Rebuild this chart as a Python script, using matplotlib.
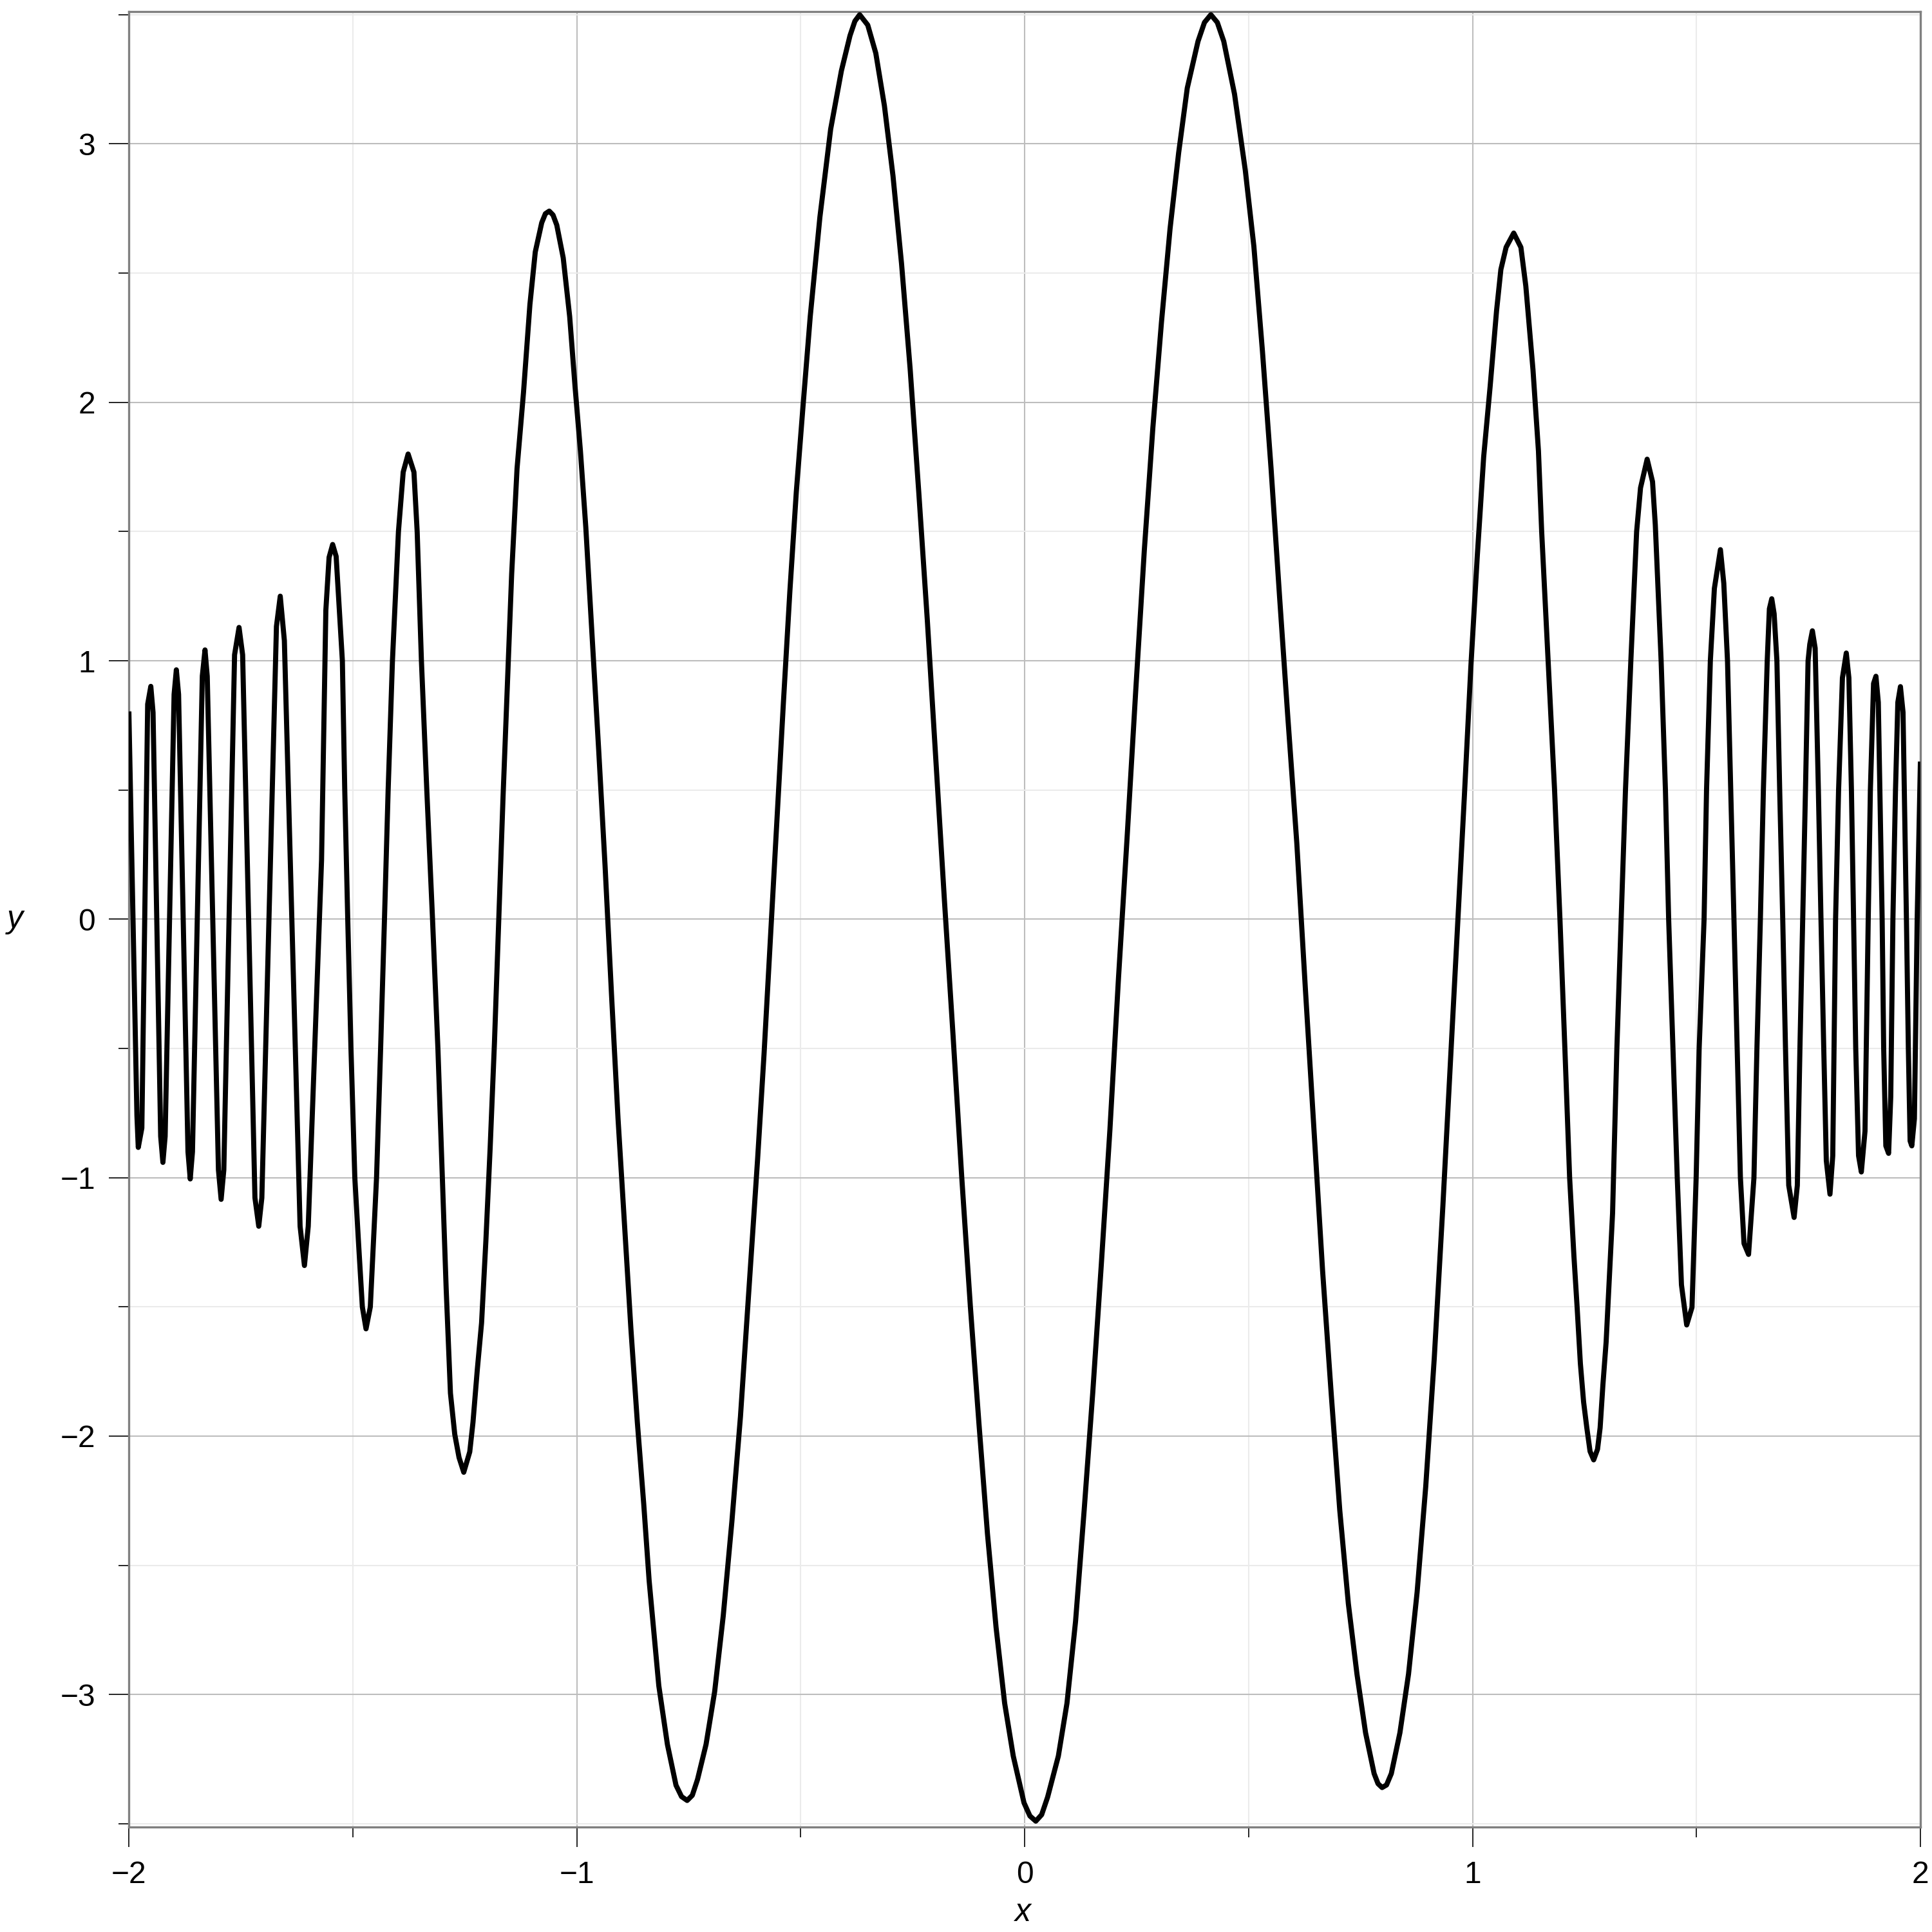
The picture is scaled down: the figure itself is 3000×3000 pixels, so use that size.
import matplotlib
matplotlib.use("Agg")
import matplotlib.pyplot as plt
from matplotlib.ticker import FixedLocator

plt.rcParams['font.family'] = ['Liberation Sans', 'DejaVu Sans']

# ---- data (x, y vertices) ----
x_vals = [
    -2.000, -1.982, -1.979, -1.971, -1.958, -1.951, -1.946, -1.929, -1.924, -1.919,
    -1.899, -1.894, -1.889, -1.868, -1.863, -1.858, -1.836, -1.830, -1.825, -1.800,
    -1.794, -1.788, -1.764, -1.754, -1.746, -1.7185, -1.710, -1.7031, -1.6705, -1.662,
    -1.6528, -1.6177, -1.608, -1.5995, -1.5698, -1.5602, -1.553, -1.545, -1.5372, -1.5233,
    -1.5180, -1.5113, -1.5041, -1.4955, -1.4873, -1.4787, -1.4705, -1.4609, -1.4470, -1.4379,
    -1.4293, -1.4211, -1.4115, -1.3981, -1.3875, -1.3765, -1.3635, -1.3563, -1.3468, -1.3348,
    -1.322, -1.310, -1.300, -1.2916, -1.2820, -1.2724, -1.2628, -1.2523, -1.2389, -1.2317,
    -1.2221, -1.2125, -1.2029, -1.1933, -1.1837, -1.1741, -1.1645, -1.1549, -1.1453, -1.1333,
    -1.1189, -1.1046, -1.0926, -1.0782, -1.0700, -1.0614, -1.0530, -1.0446, -1.0302, -1.0158,
    -1.0038, -0.9918, -0.9798, -0.9655, -0.9511, -0.9367, -0.9223, -0.9079, -0.8935, -0.8791,
    -0.8647, -0.8504, -0.8384, -0.8168, -0.7976, -0.7784, -0.7660, -0.7535, -0.7420, -0.7304,
    -0.7113, -0.6921, -0.6729, -0.6537, -0.6345, -0.6153, -0.5962, -0.5818, -0.5674, -0.5530,
    -0.5386, -0.5242, -0.5098, -0.4955, -0.4787, -0.4571, -0.4331, -0.4091, -0.3899, -0.3790,
    -0.3683, -0.3503, -0.3323, -0.3131, -0.2939, -0.2748, -0.2556, -0.2364, -0.2172, -0.1981,
    -0.1789, -0.1597, -0.1405, -0.1213, -0.1022, -0.0830, -0.0638, -0.0446, -0.0254, -0.0014,
    0.0118, 0.0249, 0.0380, 0.0513, 0.0753, 0.0945, 0.1137, 0.1329, 0.1520, 0.1712,
    0.1904, 0.2096, 0.2288, 0.2480, 0.2672, 0.2863, 0.3055, 0.3247, 0.3439, 0.3631,
    0.3871, 0.4015, 0.4158, 0.4302, 0.4446, 0.4686, 0.4926, 0.5118, 0.5310, 0.5502,
    0.5693, 0.5873, 0.6077, 0.6269, 0.6460, 0.6652, 0.6844, 0.7036, 0.7228, 0.7420,
    0.7612, 0.7803, 0.7890, 0.7981, 0.8080, 0.8187, 0.8379, 0.8571, 0.8763, 0.8955,
    0.9146, 0.9338, 0.9530, 0.9674, 0.9818, 0.9962, 1.0106, 1.0249, 1.0393, 1.0537,
    1.0633, 1.075, 1.092, 1.108, 1.119, 1.135, 1.1472, 1.1544, 1.1688, 1.1832,
    1.1952, 1.2062, 1.2168, 1.2264, 1.2336, 1.2408, 1.2480, 1.2552, 1.2624, 1.2705,
    1.2791, 1.2849, 1.2911, 1.2983, 1.3055, 1.3127, 1.3223, 1.3319, 1.3415, 1.3535,
    1.3664, 1.3751, 1.3899, 1.4019, 1.4081, 1.4211, 1.4307, 1.4379, 1.4475, 1.4571,
    1.4665, 1.4782, 1.4900, 1.4993, 1.5060, 1.5170, 1.5225, 1.5310, 1.5400, 1.5535,
    1.5610, 1.5693, 1.5765, 1.5837, 1.5909, 1.5981, 1.6062, 1.6163, 1.6283, 1.6350,
    1.6427, 1.6494, 1.6580, 1.6628, 1.6681, 1.6734, 1.6796, 1.6858, 1.6926, 1.6988,
    1.7060, 1.7180, 1.7252, 1.7310, 1.7372, 1.7434, 1.7492, 1.7530, 1.7588, 1.7650,
    1.7722, 1.7780, 1.7842, 1.7899, 1.7981, 1.8043, 1.8106, 1.8173, 1.8259, 1.8345,
    1.8403, 1.8460, 1.8508, 1.8556, 1.8619, 1.8681, 1.8763, 1.8835, 1.8883, 1.8954,
    1.9007, 1.9060, 1.9146, 1.9180, 1.9228, 1.9290, 1.9338, 1.9386, 1.9444, 1.9496,
    1.9554, 1.9612, 1.9688, 1.9731, 1.9770, 1.9808, 1.9866, 1.9928, 2.000,
]
y_vals = [
    0.804, -0.760, -0.883, -0.808, 0.832, 0.901, 0.800, -0.840, -0.941, -0.840,
    0.870, 0.965, 0.870, -0.900, -1.005, -0.900, 0.941, 1.042, 0.940, -0.970,
    -1.084, -0.970, 1.023, 1.129, 1.023, -1.078, -1.188, -1.078, 1.133, 1.250,
    1.078, -1.188, -1.340, -1.188, 0.228, 1.195, 1.400, 1.450, 1.404, 1.000,
    0.500, 0.000, -0.500, -1.000, -1.250, -1.500, -1.585, -1.500, -1.000, -0.500,
    0.000, 0.500, 1.000, 1.500, 1.730, 1.800, 1.730, 1.500, 1.000, 0.500,
    0.000, -0.500, -1.000, -1.427, -1.834, -1.993, -2.083, -2.140, -2.061, -1.947,
    -1.744, -1.562, -1.245, -0.883, -0.476, 0.000, 0.476, 0.906, 1.336, 1.744,
    2.038, 2.378, 2.582, 2.695, 2.730, 2.740, 2.725, 2.686, 2.559, 2.332,
    2.061, 1.812, 1.517, 1.087, 0.657, 0.204, -0.294, -0.770, -1.178, -1.585,
    -1.947, -2.264, -2.559, -2.966, -3.193, -3.351, -3.395, -3.410, -3.390, -3.329,
    -3.193, -2.989, -2.695, -2.332, -1.925, -1.427, -0.928, -0.521, -0.068, 0.385,
    0.838, 1.268, 1.653, 1.970, 2.332, 2.717, 3.057, 3.283, 3.419, 3.475,
    3.500, 3.460, 3.351, 3.148, 2.876, 2.536, 2.129, 1.653, 1.155, 0.611,
    0.068, -0.453, -0.996, -1.495, -1.947, -2.378, -2.740, -3.034, -3.238, -3.419,
    -3.470, -3.490, -3.465, -3.397, -3.238, -3.034, -2.717, -2.287, -1.834, -1.336,
    -0.815, -0.226, 0.317, 0.883, 1.427, 1.902, 2.310, 2.672, 2.966, 3.216,
    3.397, 3.470, 3.500, 3.470, 3.397, 3.193, 2.899, 2.604, 2.197, 1.744,
    1.245, 0.790, 0.294, -0.272, -0.815, -1.359, -1.834, -2.287, -2.649, -2.921,
    -3.148, -3.306, -3.345, -3.360, -3.350, -3.306, -3.148, -2.921, -2.604, -2.196,
    -1.698, -1.110, -0.476, 0.000, 0.476, 0.974, 1.404, 1.789, 2.061, 2.355,
    2.514, 2.600, 2.655, 2.600, 2.450, 2.126, 1.812, 1.500, 1.000, 0.500,
    0.000, -0.500, -1.000, -1.303, -1.503, -1.719, -1.868, -1.968, -2.059, -2.092,
    -2.051, -1.968, -1.802, -1.636, -1.386, -1.137, -0.500, 0.000, 0.500, 1.000,
    1.500, 1.669, 1.780, 1.693, 1.526, 1.000, 0.500, 0.000, -0.500, -1.000,
    -1.415, -1.570, -1.502, -1.000, -0.500, 0.000, 0.500, 1.000, 1.280, 1.430,
    1.300, 1.000, 0.500, 0.000, -0.500, -1.000, -1.255, -1.297, -1.001, -0.500,
    0.000, 0.500, 1.000, 1.201, 1.240, 1.182, 1.000, 0.500, 0.000, -0.500,
    -1.030, -1.154, -1.030, -0.500, 0.000, 0.500, 1.000, 1.064, 1.116, 1.049,
    0.500, 0.000, -0.500, -0.934, -1.064, -0.915, 0.000, 0.500, 0.934, 1.030,
    0.934, 0.500, 0.000, -0.500, -0.915, -0.978, -0.820, 0.000, 0.500, 0.912,
    0.940, 0.839, 0.000, -0.500, -0.877, -0.906, -0.686, 0.000, 0.500, 0.839,
    0.900, 0.801, 0.000, -0.500, -0.858, -0.877, -0.772, 0.000, 0.610,
]

x_major = [-2, -1, 0, 1, 2]
x_minor = [-1.5, -0.5, 0.5, 1.5]
y_major = [-3, -2, -1, 0, 1, 2, 3]
y_minor = [-3.5, -2.5, -1.5, -0.5, 0.5, 1.5, 2.5, 3.5]
x_label = "x"
y_label = "y"

fig = plt.figure(figsize=(10, 10), dpi=300)
ax = fig.add_axes([0.0667, 0.0543, 0.9273, 0.9397])

ax.plot(x_vals, y_vals, color="black", lw=1.9, solid_joinstyle="round",
        solid_capstyle="butt", zorder=3)

ax.set_xlim(-2, 2)
ax.set_ylim(-3.513, 3.512)

ax.xaxis.set_major_locator(FixedLocator(x_major))
ax.xaxis.set_minor_locator(FixedLocator(x_minor))
ax.yaxis.set_major_locator(FixedLocator(y_major))
ax.yaxis.set_minor_locator(FixedLocator(y_minor))

ax.grid(which="major", color="#bdbdbd", lw=0.5, zorder=0)
ax.grid(which="minor", color="#ebebeb", lw=0.5, zorder=0)
ax.set_axisbelow(True)

for s in ax.spines.values():
    s.set_color("#808080")
    s.set_linewidth(0.8)

ax.tick_params(which="major", direction="out", length=7.5, width=0.4,
               color="black", labelsize=11.5, pad=5)
ax.tick_params(which="minor", direction="out", length=3.8, width=0.4,
               color="black")

ax.set_xlabel(x_label, fontsize=12, style="italic")
ax.set_ylabel(y_label, fontsize=12, style="italic", rotation=0)
ax.xaxis.set_label_coords(0.499, -0.047)
ax.yaxis.set_label_coords(-0.0636, 0.5)
ax.xaxis.label.set_va("center")
ax.yaxis.label.set_va("center")
ax.yaxis.label.set_ha("center")

fig.savefig("out.png", dpi=300)
